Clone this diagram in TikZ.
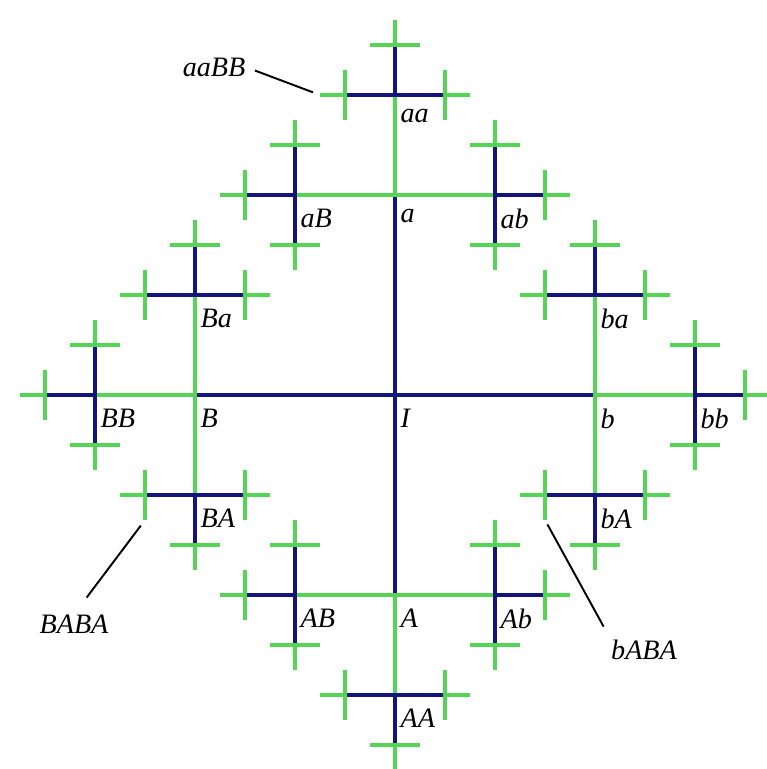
\documentclass[tikz,border=0pt]{standalone}
\usepackage{fontspec}
\setmainfont{Liberation Serif}
\usepackage{tikz}
\definecolor{treeblue}{RGB}{20,20,125}
\definecolor{treegreen}{RGB}{85,212,85}

\begin{document}
\begin{tikzpicture}[
    tierodd/.style={treeblue,line width=2.1pt},
    tiereven/.style={treegreen,line width=2.4pt},
    tag/.style={anchor=north west,inner sep=0pt,xshift=3pt,yshift=-8pt,font=\fontsize{16}{19}\selectfont\itshape},
    farlabel/.style={inner sep=0pt,font=\fontsize{16}{19}\selectfont\itshape},
    pointer/.style={black,line width=1.1pt}]
  \fill[white] (-7.9,-7.48) rectangle (7.44,7.9);
  \useasboundingbox (-7.9,-7.48) rectangle (7.44,7.9);
  \coordinate (I) at (0,0);
  % 0 = b (right), 1 = a (up), 2 = B (left), 3 = A (down)
  \foreach \p in {0,1,2,3} {
    \draw[tierodd] (I) -- ++({\p*90}:4) coordinate (v\p);
    \foreach \s in {-1,0,1} {
      \pgfmathtruncatemacro\q{mod(\p+\s+4,4)}
      \draw[tiereven] (v\p) -- ++({\q*90}:2) coordinate (v\p\q);
      \foreach \t in {-1,0,1} {
        \pgfmathtruncatemacro\r{mod(\q+\t+4,4)}
        \draw[tierodd] (v\p\q) -- ++({\r*90}:1) coordinate (v\p\q\r);
        \foreach \u in {-1,0,1} {
          \pgfmathtruncatemacro\w{mod(\r+\u+4,4)}
          \draw[tiereven] (v\p\q\r) -- ++({\w*90}:0.5) coordinate (v\p\q\r\w);
        }
      }
    }
  }
  % vertex names
  \node[tag] (tag-I) at (I) {I};
  \node[tag] (tag-a) at (v1) {a};
  \node[tag] (tag-A) at (v3) {A};
  \node[tag] (tag-b) at (v0) {b};
  \node[tag] (tag-B) at (v2) {B};
  \node[tag] (tag-aa) at (v11) {aa};
  \node[tag] (tag-ab) at (v10) {ab};
  \node[tag] (tag-aB) at (v12) {aB};
  \node[tag] (tag-ba) at (v01) {ba};
  \node[tag] (tag-bb) at (v00) {bb};
  \node[tag] (tag-bA) at (v03) {bA};
  \node[tag] (tag-Ba) at (v21) {Ba};
  \node[tag] (tag-BB) at (v22) {BB};
  \node[tag] (tag-BA) at (v23) {BA};
  \node[tag] (tag-Ab) at (v30) {Ab};
  \node[tag] (tag-AB) at (v32) {AB};
  \node[tag] (tag-AA) at (v33) {AA};
  % far vertices with pointers
  \node[farlabel] (far-aaBB) at (-3.62,6.56) {aaBB};
  \node[farlabel] (far-BABA) at (-6.42,-4.58) {BABA};
  \node[farlabel] (far-bABA) at (4.98,-5.1) {bABA};
  \draw[pointer,shorten <=0.2cm,shorten >=0.15cm] (far-aaBB.east) -- (v1122);
  \draw[pointer,shorten <=0.42cm,shorten >=0.14cm] (far-BABA.north) -- (v2323);
  \draw[pointer,shorten <=0.3cm,shorten >=0.1cm] (far-bABA.north west) -- (v0323);
\end{tikzpicture}
\end{document}
